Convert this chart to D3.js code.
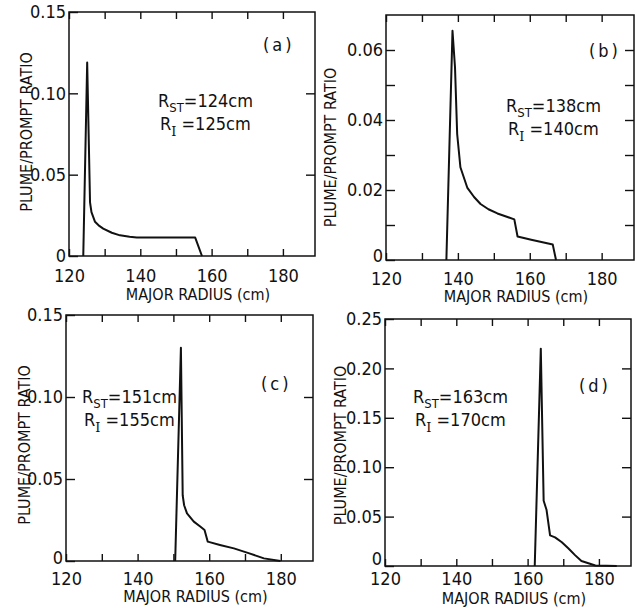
<!DOCTYPE html>
<html>
<head>
<meta charset="utf-8">
<script src="https://cdn.jsdelivr.net/npm/d3@7"></script>
<style>
  body { margin: 0; background: #fff; }
  svg text { font-family: "Liberation Sans Narrow", "DejaVu Sans Condensed", "Liberation Sans", sans-serif; fill: #111; }
  .frame { fill: none; stroke: #111; stroke-width: 1.5; }
  .curve { fill: none; stroke: #111; stroke-width: 2; stroke-linejoin: round; }
  .tick line { stroke: #111; stroke-width: 1.4; }
  .domain { display: none; }
</style>
</head>
<body>
<svg id="chart" width="637" height="608"></svg>
<script>
// curves: [major radius (cm), plume/prompt ratio]
var curveA = [[124.0,0],[125.1,0.119],[125.9,0.033],[126.3,0.027],[127.3,0.021],[128.5,0.0185],
  [129.6,0.0168],[132,0.0143],[134.3,0.0127],[137,0.0118],[139,0.0114],[145,0.0113],[155.4,0.0113],[157.3,0]];
var curveB = [[136.8,0],[138.5,0.0655],[139.2,0.055],[139.8,0.036],[140.7,0.0265],[142.6,0.0207],
  [144.5,0.018],[146.3,0.016],[148.5,0.0145],[151,0.0133],[155.7,0.0116],[156.6,0.0067],[160.4,0.0058],
  [166.4,0.0044],[167.3,0]];
var curveC = [[150.5,0],[152.1,0.13],[152.6,0.04],[153,0.034],[153.8,0.029],[155.7,0.024],[157.5,0.021],
  [158.7,0.0189],[159.6,0.0118],[163,0.0098],[166.9,0.0077],[171,0.0048],[175.3,0.0016],[179.9,0]];
var curveD = [[162,0],[163.7,0.22],[164.5,0.066],[165.3,0.057],[166.3,0.031],[167.7,0.029],[169.6,0.024],
  [171.4,0.018],[173.3,0.011],[175.1,0.005],[177.5,0.0022],[179,0.0005],[185,0]];

var xTicks = [120,130,140,150,160,170,180];
var xLabels = [120,140,160,180];
var yTicksA = [0,0.05,0.10,0.15];
var yTicksB = [0,0.01,0.02,0.03,0.04,0.05,0.06];
var yTicksD = [0,0.05,0.10,0.15,0.20,0.25];
var yLabelsA = ["0","0.05","0.10","0.15"];
var yLabelsB = ["0","0.02","0.04","0.06"];
var yLabelsD = ["0","0.05","0.10","0.15","0.20","0.25"];
var panelTags = ["(a)","(b)","(c)","(d)"];
var rST = ["124","138","151","163"];
var rI = ["125","140","155","170"];

var panels = [
  {data: curveA, yMax: 0.15, yTicks: yTicksA, yLabels: yLabelsA, left: 69, top: 12, w: 246, h: 244,
   titleX: -37, titleDy: -2, xPad: 13, xTitleY: 44, zeroUp: 0, tag: [194, 39], note: [89, 95]},
  {data: curveB, yMax: 0.07, yTicks: yTicksB, yLabels: yLabelsB, left: 386, top: 15, w: 248, h: 245,
   titleX: -50, titleDy: 10, xPad: 12, xTitleY: 42, zeroUp: 4, tag: [203, 42], note: [120, 97]},
  {data: curveC, yMax: 0.15, yTicks: yTicksA, yLabels: yLabelsA, left: 66, top: 315, w: 247, h: 246,
   titleX: -36, titleDy: 7, xPad: 11, xTitleY: 41, zeroUp: 3, tag: [195, 75], note: [16, 88]},
  {data: curveD, yMax: 0.25, yTicks: yTicksD, yLabels: yLabelsD, left: 385, top: 319, w: 246, h: 247,
   titleX: -39, titleDy: 3, xPad: 6, xTitleY: 38, zeroUp: 7, tag: [194, 73], note: [28, 84]}
];

var svg = d3.select("#chart");

panels.forEach(function(p, i) {
  var g = svg.append("g").attr("transform", "translate(" + p.left + "," + p.top + ")");
  var x = d3.scaleLinear().domain([120, 189]).range([0, p.w]);
  var y = d3.scaleLinear().domain([0, p.yMax]).range([p.h, 0]);

  // bottom axis, ticks inward
  g.append("g").attr("transform", "translate(0," + p.h + ")")
    .call(d3.axisBottom(x).tickValues(xTicks).tickSizeInner(-7).tickSizeOuter(0).tickPadding(p.xPad)
      .tickFormat(function(d) { return xLabels.indexOf(d) >= 0 ? d : ""; }))
    .selectAll("text").style("font-size", "18px");
  // top axis, ticks only
  g.append("g")
    .call(d3.axisTop(x).tickValues(xTicks).tickSizeInner(-7).tickSizeOuter(0).tickFormat(""));

  var lab = {};
  p.yTicks.forEach(function(t) { lab[t] = ""; });
  p.yLabels.forEach(function(s) { lab[+s] = s; });
  g.append("g")
    .call(d3.axisLeft(y).tickValues(p.yTicks).tickSizeInner(-9).tickSizeOuter(0).tickPadding(3)
      .tickFormat(function(d) { return lab[d]; }))
    .selectAll("text").style("font-size", "18px")
    .attr("y", function(d) { return d === 0 ? -p.zeroUp : 0; });
  g.append("g").attr("transform", "translate(" + p.w + ",0)")
    .call(d3.axisRight(y).tickValues(p.yTicks.filter(function(t) { return t > 0 && t < p.yMax; }))
      .tickSizeInner(-9).tickSizeOuter(0).tickFormat(""));

  g.append("rect").attr("class", "frame").attr("width", p.w).attr("height", p.h);

  var line = d3.line().x(function(d) { return x(d[0]); }).y(function(d) { return y(d[1]); });
  g.append("path").attr("class", "curve").attr("d", line(p.data));

  // axis titles
  g.append("text").attr("x", p.w / 2 + 6).attr("y", p.h + p.xTitleY)
    .attr("text-anchor", "middle").style("font-size", "16px")
    .text("MAJOR RADIUS (cm)");
  g.append("text").attr("transform", "translate(" + p.titleX + "," + (p.h / 2 + p.titleDy) + ") rotate(-90)")
    .attr("text-anchor", "middle").style("font-size", "16px")
    .text("PLUME/PROMPT RATIO");

  g.append("text").attr("x", p.tag[0]).attr("y", p.tag[1]).style("font-size", "18px")
    .style("letter-spacing", "3px").text(panelTags[i]);

  var n1 = g.append("text").attr("x", p.note[0]).attr("y", p.note[1]).style("font-size", "18px");
  n1.append("tspan").text("R");
  n1.append("tspan").attr("dy", 5).style("font-size", "13px").text("ST");
  n1.append("tspan").attr("dy", -5).text("=" + rST[i] + "cm");
  var n2 = g.append("text").attr("x", p.note[0] + 2).attr("y", p.note[1] + 23).style("font-size", "18px");
  n2.append("tspan").text("R");
  n2.append("tspan").attr("dy", 6).style("font-size", "13px").style("font-family", "'DejaVu Serif', serif").text("I");
  n2.append("tspan").attr("dy", -6).text(" =" + rI[i] + "cm");
});
</script>
</body>
</html>
